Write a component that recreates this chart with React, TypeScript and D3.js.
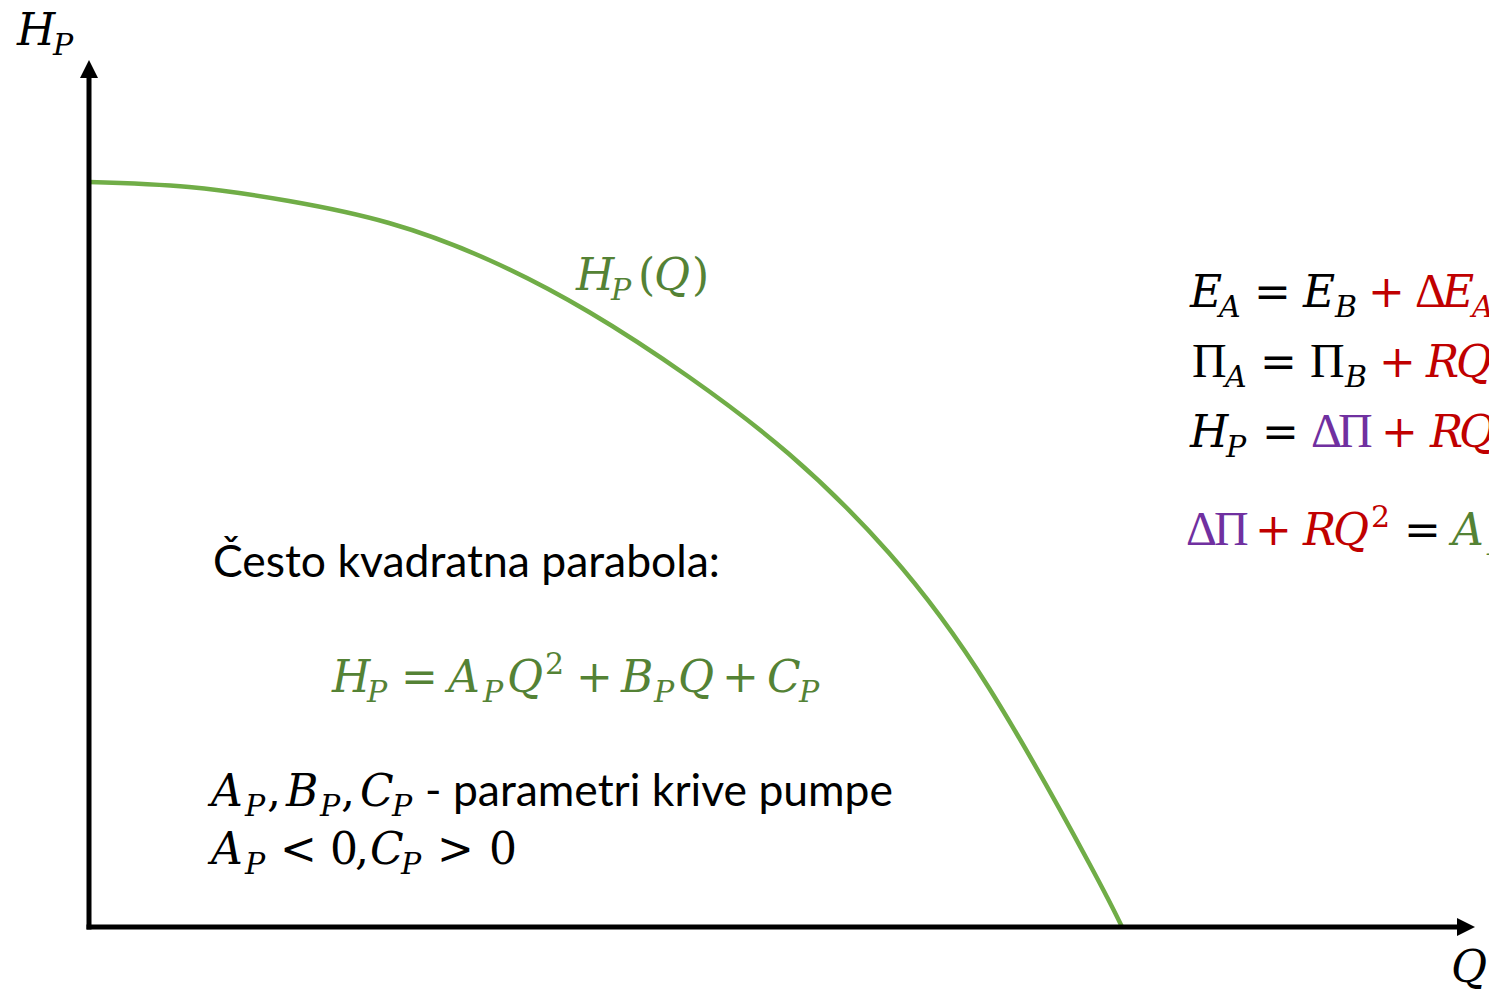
import React from "react";
import * as d3 from "d3";

// Pump characteristic curve H_P(Q) (arbitrary units)
const Q_VALUES = [0, 1, 2, 3, 4, 5, 6, 7, 8, 9, 10, 10.33];
const H_VALUES = [7.45, 7.4, 7.26, 7.04, 6.67, 6.15, 5.5, 4.73, 3.74, 2.39, 0.64, 0.0];
const Q_MAX = 13.86;
const H_MAX = 8.67;

const LABEL_AXIS_Y = "H";
const LABEL_AXIS_X = "Q";
const LABEL_INTRO = "Često kvadratna parabola:";
const LABEL_PARAMS = "- parametri krive pumpe";

const W = 1489;
const H = 996;
const BLACK = "#000000";
const RED = "#C00000";
const PURPLE = "#7030A0";
const GREEN_TEXT = "#548235";
const GREEN_LINE = "#70AD47";
const MATH_FONT = "'DejaVu Serif', serif";
const GREEK_FONT = "'Liberation Serif', serif";
const SANS_FONT = "Lato, 'Open Sans', sans-serif";
const FS = 44;
const FS_SUB = 30;

type Tok = { s: string; x: number; k?: "sub" | "sup"; it?: boolean; c?: string; g?: boolean };

function MathLine({ y, toks, color }: { y: number; toks: Tok[]; color: string }) {
  return (
    <g>
      {toks.map((t, i) => {
        const dy = t.k === "sub" ? 10 : t.k === "sup" ? -18 : 0;
        return (
          <text
            key={i}
            x={t.x}
            y={y + dy}
            fontFamily={t.g ? GREEK_FONT : MATH_FONT}
            fontStyle={t.it === false || t.g ? "normal" : "italic"}
            fontSize={t.g ? FS + 4 : t.k ? FS_SUB : FS}
            fill={t.c ?? color}
          >
            {t.s}
          </text>
        );
      })}
    </g>
  );
}

export default function App() {
  const x = d3.scaleLinear().domain([0, Q_MAX]).range([89, 1475]);
  const y = d3.scaleLinear().domain([0, H_MAX]).range([927, 60]);
  const pts: [number, number][] = Q_VALUES.map((q, i) => [q, H_VALUES[i]]);
  const line = d3
    .line<[number, number]>()
    .x((d) => x(d[0]))
    .y((d) => y(d[1]))
    .curve(d3.curveNatural);

  const x0 = x(0);
  const y0 = y(0);
  const xEnd = x(Q_MAX);
  const yEnd = y(H_MAX);

  return (
    <svg
      width={W}
      height={H}
      style={{ position: "absolute", left: 0, top: 0, background: "#fff" }}
    >
      <rect x={0} y={0} width={W} height={H} fill="#fff" />
      {/* curve */}
      <path d={line(pts) ?? ""} fill="none" stroke={GREEN_LINE} strokeWidth={4.5} />

      {/* axes */}
      <line x1={x0} y1={y0 + 2.5} x2={x0} y2={yEnd + 16} stroke={BLACK} strokeWidth={5} />
      <path d={`M${x0},${yEnd} L${x0 - 9},${yEnd + 18} L${x0 + 9},${yEnd + 18} Z`} fill={BLACK} />
      <line x1={x0 - 2.5} y1={y0} x2={xEnd - 16} y2={y0} stroke={BLACK} strokeWidth={5} />
      <path d={`M${xEnd},${y0} L${xEnd - 18},${y0 - 9} L${xEnd - 18},${y0 + 9} Z`} fill={BLACK} />

      {/* axis labels */}
      <MathLine
        y={45}
        color={BLACK}
        toks={[
          { s: LABEL_AXIS_Y, x: 17 },
          { s: "P", x: 53, k: "sub" },
        ]}
      />
      <MathLine y={982} color={BLACK} toks={[{ s: LABEL_AXIS_X, x: 1451 }]} />

      {/* curve label */}
      <MathLine
        y={290}
        color={GREEN_TEXT}
        toks={[
          { s: "H", x: 576 },
          { s: "P", x: 611, k: "sub" },
          { s: "(", x: 638, it: false },
          { s: "Q", x: 654 },
          { s: ")", x: 692, it: false },
        ]}
      />

      {/* intro text */}
      <text
        x={213}
        y={577}
        fontFamily={SANS_FONT}
        fontSize={44}
        fill={BLACK}
        textLength={507}
        lengthAdjust="spacingAndGlyphs"
      >
        {LABEL_INTRO}
      </text>

      {/* main formula */}
      <MathLine
        y={692}
        color={GREEN_TEXT}
        toks={[
          { s: "H", x: 332 },
          { s: "P", x: 367, k: "sub" },
          { s: "=", x: 401, it: false },
          { s: "A", x: 448 },
          { s: "P", x: 483, k: "sub" },
          { s: "Q", x: 507 },
          { s: "2", x: 545, k: "sup", it: false },
          { s: "+", x: 576, it: false },
          { s: "B", x: 621 },
          { s: "P", x: 654, k: "sub" },
          { s: "Q", x: 678 },
          { s: "+", x: 722, it: false },
          { s: "C", x: 767 },
          { s: "P", x: 799, k: "sub" },
        ]}
      />

      {/* parameters */}
      <MathLine
        y={806}
        color={BLACK}
        toks={[
          { s: "A", x: 211 },
          { s: "P", x: 245, k: "sub" },
          { s: ",", x: 267, it: false },
          { s: "B", x: 286 },
          { s: "P", x: 320, k: "sub" },
          { s: ",", x: 341, it: false },
          { s: "C", x: 360 },
          { s: "P", x: 392, k: "sub" },
        ]}
      />
      <text
        x={425}
        y={806}
        fontFamily={SANS_FONT}
        fontSize={44}
        fill={BLACK}
        textLength={468}
        lengthAdjust="spacingAndGlyphs"
      >
        {LABEL_PARAMS}
      </text>
      <MathLine
        y={864}
        color={BLACK}
        toks={[
          { s: "A", x: 211 },
          { s: "P", x: 245, k: "sub" },
          { s: "<", x: 280, it: false },
          { s: "0", x: 330, it: false },
          { s: ",", x: 355, it: false },
          { s: "C", x: 370 },
          { s: "P", x: 401, k: "sub" },
          { s: ">", x: 437, it: false },
          { s: "0", x: 489, it: false },
        ]}
      />

      {/* right-hand equations (cut by the picture edge) */}
      <MathLine
        y={307}
        color={BLACK}
        toks={[
          { s: "E", x: 1190 },
          { s: "A", x: 1219, k: "sub" },
          { s: "=", x: 1254, it: false },
          { s: "E", x: 1303 },
          { s: "B", x: 1335, k: "sub" },
          { s: "+", x: 1368, it: false, c: RED },
          { s: "Δ", x: 1415, g: true, c: RED },
          { s: "E", x: 1442, c: RED },
          { s: "A", x: 1472, k: "sub", c: RED },
          { s: "B", x: 1492, k: "sub", c: RED },
        ]}
      />
      <MathLine
        y={377}
        color={BLACK}
        toks={[
          { s: "Π", x: 1192, g: true },
          { s: "A", x: 1225, k: "sub" },
          { s: "=", x: 1260, it: false },
          { s: "Π", x: 1310, g: true },
          { s: "B", x: 1345, k: "sub" },
          { s: "+", x: 1379, it: false, c: RED },
          { s: "R", x: 1426, c: RED },
          { s: "Q", x: 1456, c: RED },
          { s: "2", x: 1497, k: "sup", it: false, c: RED },
        ]}
      />
      <MathLine
        y={447}
        color={BLACK}
        toks={[
          { s: "H", x: 1190 },
          { s: "P", x: 1226, k: "sub" },
          { s: "=", x: 1262, it: false },
          { s: "Δ", x: 1311, g: true, c: PURPLE },
          { s: "Π", x: 1338, g: true, c: PURPLE },
          { s: "+", x: 1381, it: false, c: RED },
          { s: "R", x: 1430, c: RED },
          { s: "Q", x: 1459, c: RED },
          { s: "2", x: 1499, k: "sup", it: false, c: RED },
        ]}
      />
      <MathLine
        y={545}
        color={BLACK}
        toks={[
          { s: "Δ", x: 1186, g: true, c: PURPLE },
          { s: "Π", x: 1214, g: true, c: PURPLE },
          { s: "+", x: 1255, it: false, c: RED },
          { s: "R", x: 1303, c: RED },
          { s: "Q", x: 1333, c: RED },
          { s: "2", x: 1371, k: "sup", it: false, c: RED },
          { s: "=", x: 1404, it: false },
          { s: "A", x: 1452, c: GREEN_TEXT },
          { s: "P", x: 1487, k: "sub", c: GREEN_TEXT },
        ]}
      />
    </svg>
  );
}
